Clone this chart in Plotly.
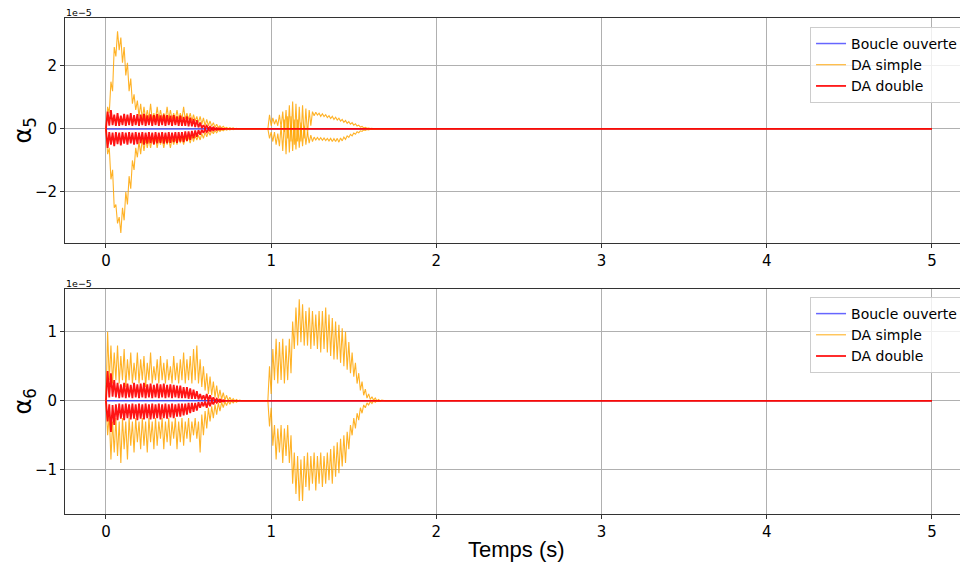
import numpy as np
import plotly.graph_objects as go
from plotly.subplots import make_subplots

# ---------------- data (units of 1e-5) ----------------
x_ticks = [0, 1, 2, 3, 4, 5]
y5_ticks = [-2, 0, 2]
y6_ticks = [-1, 0, 1]
t_end = 5.0
dt = 0.01

# Boucle ouverte (flat)
bo_t = [0.0, 5.0]
bo_v = [0.0, 0.0]

# ---- alpha5, DA simple ----
s5_A_start = 0.0
s5_A_up = [0.0, 0.7, 0.5, 1.5, 1.2, 2.6, 2.3, 3.1, 2.5, 2.9, 2.1, 2.6, 1.7, 2.1, 1.2, 1.6, 0.8, 1.1, 0.6, 0.9,
           0.4, 0.8, 0.3, 0.7, 0.3, 0.6, 0.3, 0.8, 0.3, 0.5, 0.3, 0.7, 0.3, 0.6, 0.3, 0.5, 0.3, 0.7, 0.3, 0.6,
           0.3, 0.5, 0.3, 0.6, 0.3, 0.5, 0.3, 0.7, 0.3, 0.5, 0.3, 0.5, 0.25, 0.45, 0.25, 0.4, 0.2, 0.4, 0.15, 0.35,
           0.1, 0.3, 0.1, 0.25, 0.08, 0.2, 0.05, 0.15, 0.04, 0.1, 0.03, 0.08, 0.02, 0.05, 0.01, 0.04, 0.01, 0.03, 0.0, 0.02,
           0.0, 0.01, 0.0, 0.0, 0.0]
s5_A_lo = [0.0, -0.8, -0.6, -1.6, -1.3, -2.5, -2.4, -3.0, -2.8, -3.3, -2.5, -2.9, -2.0, -2.4, -1.5, -1.9, -1.0, -1.3, -0.6, -0.9,
           -0.4, -0.8, -0.3, -0.7, -0.3, -0.6, -0.3, -0.6, -0.3, -0.5, -0.3, -0.6, -0.3, -0.5, -0.3, -0.6, -0.3, -0.5, -0.3, -0.6,
           -0.3, -0.5, -0.3, -0.5, -0.25, -0.45, -0.25, -0.5, -0.25, -0.4, -0.25, -0.45, -0.2, -0.4, -0.2, -0.35, -0.2, -0.35, -0.15, -0.3,
           -0.1, -0.25, -0.08, -0.2, -0.06, -0.15, -0.05, -0.12, -0.03, -0.08, -0.02, -0.06, -0.01, -0.04, -0.01, -0.03, 0.0, -0.02, 0.0, -0.01,
           0.0, 0.0, 0.0, 0.0, 0.0]
s5_B_start = 0.98
s5_B_up = [0.0, 0.45, 0.1, 0.35, 0.15, 0.3, 0.1, 0.45, 0.05, 0.55, -0.1, 0.6, -0.3, 0.75, -0.4, 0.87, -0.5, 0.8, -0.4, 0.7,
           -0.4, 0.75, -0.3, 0.65, -0.2, 0.6, 0.1, 0.55, 0.42, 0.53, 0.44, 0.5, 0.4, 0.48, 0.39, 0.45, 0.36, 0.42, 0.33, 0.4,
           0.3, 0.37, 0.28, 0.34, 0.25, 0.3, 0.21, 0.27, 0.18, 0.23, 0.15, 0.2, 0.12, 0.16, 0.09, 0.12, 0.06, 0.08, 0.03, 0.05,
           0.02, 0.03, 0.01, 0.02, 0.0, 0.01, 0.0, 0.0, 0.0, 0.0, 0.0, 0.0, 0.0, 0.0, 0.0, 0.0, 0.0]
s5_B_lo = [0.0, -0.3, -0.1, -0.4, -0.1, -0.5, -0.15, -0.55, 0.1, -0.7, 0.3, -0.8, 0.4, -0.75, 0.4, -0.7, 0.3, -0.65, 0.3, -0.6,
           0.2, -0.55, 0.1, -0.5, -0.1, -0.45, -0.2, -0.4, -0.26, -0.35, -0.27, -0.35, -0.28, -0.36, -0.29, -0.37, -0.3, -0.38, -0.3, -0.4,
           -0.31, -0.4, -0.3, -0.42, -0.29, -0.38, -0.26, -0.33, -0.22, -0.27, -0.17, -0.22, -0.13, -0.17, -0.09, -0.12, -0.06, -0.08, -0.03, -0.05,
           -0.02, -0.03, -0.01, -0.02, 0.0, -0.01, 0.0, 0.0, 0.0, 0.0, 0.0, 0.0, 0.0, 0.0, 0.0, 0.0, 0.0]

# ---- alpha5, DA double ----
d5_start = 0.0
d5_up = [0.0, 0.55, 0.1, 0.6, 0.12, 0.45, 0.1, 0.5, 0.1, 0.42, 0.12, 0.48, 0.1, 0.45, 0.12, 0.5, 0.1, 0.44, 0.12, 0.47,
         0.1, 0.45, 0.12, 0.48, 0.1, 0.43, 0.12, 0.46, 0.1, 0.44, 0.12, 0.47, 0.1, 0.43, 0.12, 0.45, 0.1, 0.44, 0.12, 0.42,
         0.1, 0.44, 0.12, 0.4, 0.1, 0.42, 0.1, 0.38, 0.1, 0.4, 0.08, 0.36, 0.08, 0.32, 0.06, 0.28, 0.05, 0.2, 0.03, 0.12,
         0.02, 0.1, 0.01, 0.07, 0.0, 0.05, 0.0, 0.03, 0.0, 0.02, 0.0, 0.01, 0.0]
d5_lo = [0.0, -0.6, -0.1, -0.5, -0.12, -0.55, -0.1, -0.48, -0.12, -0.52, -0.1, -0.47, -0.12, -0.5, -0.1, -0.46, -0.12, -0.5, -0.1, -0.48,
         -0.12, -0.45, -0.1, -0.5, -0.12, -0.47, -0.1, -0.45, -0.12, -0.49, -0.1, -0.46, -0.12, -0.44, -0.1, -0.47, -0.12, -0.45, -0.1, -0.44,
         -0.12, -0.42, -0.1, -0.44, -0.1, -0.4, -0.1, -0.42, -0.08, -0.38, -0.08, -0.35, -0.06, -0.3, -0.05, -0.25, -0.04, -0.18, -0.03, -0.12,
         -0.02, -0.1, -0.01, -0.07, 0.0, -0.05, 0.0, -0.03, 0.0, -0.02, 0.0, -0.01, 0.0]

# ---- alpha6, DA simple ----
s6_A_start = 0.0
s6_A_up = [0.0, 1.0, 0.3, 0.8, 0.25, 0.7, 0.3, 0.8, 0.25, 0.65, 0.3, 0.75, 0.2, 0.6, 0.3, 0.7, 0.25, 0.55, 0.3, 0.7,
           0.25, 0.6, 0.3, 0.65, 0.2, 0.55, 0.3, 0.7, 0.25, 0.5, 0.3, 0.6, 0.25, 0.65, 0.3, 0.55, 0.25, 0.6, 0.3, 0.5,
           0.25, 0.65, 0.3, 0.55, 0.25, 0.6, 0.3, 0.7, 0.25, 0.6, 0.3, 0.65, 0.25, 0.75, 0.3, 0.8, 0.25, 0.6, 0.2, 0.5,
           0.15, 0.4, 0.1, 0.35, 0.08, 0.28, 0.05, 0.22, 0.03, 0.16, 0.02, 0.12, 0.01, 0.08, 0.0, 0.05, 0.0, 0.03, 0.0, 0.02,
           0.0, 0.01, 0.0, 0.0, 0.0]
s6_A_lo = [0.0, -0.5, -0.2, -0.85, -0.3, -0.75, -0.25, -0.8, -0.3, -0.9, -0.25, -0.7, -0.3, -0.85, -0.25, -0.65, -0.3, -0.75, -0.25, -0.6,
           -0.3, -0.7, -0.25, -0.65, -0.3, -0.75, -0.25, -0.6, -0.3, -0.7, -0.25, -0.65, -0.3, -0.55, -0.25, -0.7, -0.3, -0.6, -0.25, -0.65,
           -0.3, -0.55, -0.25, -0.7, -0.3, -0.6, -0.25, -0.65, -0.3, -0.55, -0.25, -0.6, -0.3, -0.5, -0.25, -0.55, -0.3, -0.75, -0.2, -0.5,
           -0.15, -0.4, -0.1, -0.3, -0.08, -0.25, -0.05, -0.2, -0.03, -0.15, -0.02, -0.1, -0.01, -0.07, 0.0, -0.05, 0.0, -0.03, 0.0, -0.02,
           0.0, 0.0, 0.0, 0.0, 0.0]
s6_B_start = 0.98
s6_B_up = [0.0, 0.5, 0.1, 0.75, 0.3, 0.9, 0.25, 0.85, 0.3, 0.9, 0.25, 0.8, 0.3, 0.9, 0.4, 1.15, 0.75, 1.35, 0.8, 1.47,
           0.85, 1.4, 0.8, 1.3, 0.8, 1.35, 0.75, 1.3, 0.8, 1.25, 0.75, 1.3, 0.7, 1.3, 0.75, 1.35, 0.7, 1.25, 0.65, 1.2,
           0.6, 1.15, 0.6, 1.1, 0.55, 1.05, 0.5, 1.0, 0.45, 0.85, 0.4, 0.7, 0.35, 0.55, 0.25, 0.4, 0.15, 0.28, 0.08, 0.17,
           0.04, 0.1, 0.02, 0.06, 0.01, 0.04, 0.0, 0.02, 0.0, 0.01, 0.0, 0.0, 0.0, 0.0, 0.0, 0.0, 0.0, 0.0, 0.0, 0.0, 0.0]
s6_B_lo = [0.0, -0.37, -0.1, -0.65, -0.35, -0.85, -0.4, -0.75, -0.35, -0.9, -0.4, -0.8, -0.35, -0.9, -0.5, -1.2, -0.75, -1.35, -0.8, -1.45,
           -0.85, -1.45, -0.8, -1.25, -0.75, -1.3, -0.8, -1.2, -0.75, -1.3, -0.8, -1.2, -0.75, -1.25, -0.8, -1.2, -0.75, -1.15, -0.7, -1.2,
           -0.65, -1.1, -0.6, -1.05, -0.55, -0.95, -0.5, -0.9, -0.45, -0.7, -0.35, -0.5, -0.25, -0.4, -0.18, -0.28, -0.1, -0.18, -0.06, -0.1,
           -0.03, -0.06, -0.01, -0.04, 0.0, -0.02, 0.0, -0.01, 0.0, 0.0, 0.0, 0.0, 0.0, 0.0, 0.0, 0.0, 0.0, 0.0, 0.0, 0.0, 0.0]

# ---- alpha6, DA double ----
d6_start = 0.0
d6_up = [0.0, 0.43, 0.05, 0.4, 0.06, 0.3, 0.05, 0.26, 0.04, 0.24, 0.05, 0.26, 0.04, 0.25, 0.05, 0.23, 0.04, 0.26, 0.05, 0.24,
         0.04, 0.25, 0.05, 0.26, 0.04, 0.24, 0.05, 0.25, 0.04, 0.23, 0.05, 0.25, 0.04, 0.24, 0.05, 0.25, 0.04, 0.23, 0.05, 0.24,
         0.04, 0.23, 0.05, 0.22, 0.04, 0.22, 0.04, 0.2, 0.04, 0.2, 0.03, 0.18, 0.03, 0.16, 0.03, 0.14, 0.02, 0.1, 0.02, 0.08,
         0.01, 0.1, 0.0, 0.08, 0.0, 0.05, 0.0, 0.03, 0.0, 0.02, 0.0, 0.01, 0.0]
d6_lo = [0.0, -0.3, -0.05, -0.45, -0.06, -0.35, -0.05, -0.28, -0.04, -0.26, -0.05, -0.28, -0.04, -0.25, -0.05, -0.27, -0.04, -0.26, -0.05, -0.28,
         -0.04, -0.26, -0.05, -0.27, -0.04, -0.25, -0.05, -0.27, -0.04, -0.26, -0.05, -0.25, -0.04, -0.27, -0.05, -0.25, -0.04, -0.26, -0.05, -0.24,
         -0.04, -0.25, -0.05, -0.23, -0.04, -0.23, -0.04, -0.21, -0.04, -0.2, -0.03, -0.18, -0.03, -0.16, -0.03, -0.14, -0.02, -0.1, -0.02, -0.08,
         -0.01, -0.1, 0.0, -0.08, 0.0, -0.05, 0.0, -0.03, 0.0, -0.02, 0.0, -0.01, 0.0]


def times(start, vals):
    return list(np.round(start + dt * np.arange(len(vals)), 4))


def build_simple(a_start, a_up, a_lo, b_start, b_up, b_lo):
    xs = times(a_start, a_up) + times(b_start, b_up) + [t_end] + [None] + times(a_start, a_lo) + times(b_start, b_lo)
    ys = a_up + b_up + [0.0] + [None] + a_lo + b_lo
    return xs, ys


def build_double(start, up, lo):
    xs = times(start, up) + [t_end] + [None] + times(start, lo)
    ys = up + [0.0] + [None] + lo
    return xs, ys


BLUE = "rgba(0,0,255,0.6)"
ORANGE = "rgba(255,165,0,0.85)"
RED = "rgba(255,0,0,0.92)"

fig = make_subplots(rows=2, cols=1, vertical_spacing=0.0)

panels = [
    (1, "legend", (s5_A_start, s5_A_up, s5_A_lo, s5_B_start, s5_B_up, s5_B_lo), (d5_start, d5_up, d5_lo)),
    (2, "legend2", (s6_A_start, s6_A_up, s6_A_lo, s6_B_start, s6_B_up, s6_B_lo), (d6_start, d6_up, d6_lo)),
]
for row, leg, sargs, dargs in panels:
    fig.add_trace(go.Scatter(x=bo_t, y=bo_v, mode="lines", name="Boucle ouverte",
                             line=dict(color=BLUE, width=1.5), legend=leg), row=row, col=1)
    sx, sy = build_simple(*sargs)
    fig.add_trace(go.Scatter(x=sx, y=sy, mode="lines", name="DA simple",
                             line=dict(color=ORANGE, width=1.1), legend=leg), row=row, col=1)
    dx, dy = build_double(*dargs)
    fig.add_trace(go.Scatter(x=dx, y=dy, mode="lines", name="DA double",
                             line=dict(color=RED, width=1.8), legend=leg), row=row, col=1)

# The page places the figure 8px from the top-left corner of the window
W, H = 960, 560
ml, mr, mt, mb = 57, 0, 10, 54
ph = H - mt - mb
top_dom = [(506 - 235) / ph, 1.0]
bot_dom = [0.0, (506 - 281) / ph]

axis_common = dict(showgrid=True, gridcolor="#b0b0b0", gridwidth=1, zeroline=False,
                   showline=True, linecolor="#333333", linewidth=1,
                   ticks="outside", ticklen=4, tickcolor="#333333", automargin=False,
                   tickfont=dict(family="DejaVu Sans", size=15, color="black"))

xrange = [-0.248, 5.218]
fig.update_xaxes(**axis_common, range=xrange, tickvals=x_ticks, mirror=True)
fig.update_yaxes(**axis_common, mirror=False)

fig.update_layout(
    xaxis=dict(domain=[0, 1], anchor="y"),
    xaxis2=dict(domain=[0, 1], anchor="y2"),
    yaxis=dict(domain=top_dom, range=[-3.62, 3.52], tickvals=y5_ticks),
    yaxis2=dict(domain=bot_dom, range=[-1.64, 1.62], tickvals=y6_ticks),
    width=W, height=H,
    margin=dict(l=ml, r=mr, t=mt, b=mb),
    paper_bgcolor="white", plot_bgcolor="white",
    legend=dict(x=0.9945, y=0.982, xanchor="right", yanchor="top", xref="paper", yref="paper",
                bgcolor="rgba(255,255,255,0.8)", bordercolor="#cccccc", borderwidth=1,
                font=dict(family="DejaVu Sans", size=14, color="black"), tracegroupgap=0, itemwidth=30),
    legend2=dict(x=0.9945, y=0.4375, xanchor="right", yanchor="top", xref="paper", yref="paper",
                 bgcolor="rgba(255,255,255,0.8)", bordercolor="#cccccc", borderwidth=1,
                 font=dict(family="DejaVu Sans", size=14, color="black"), tracegroupgap=0, itemwidth=30),
    showlegend=True,
)

for dom in (top_dom, bot_dom):
    fig.add_annotation(text="1e−5", xref="paper", yref="paper", x=0, y=dom[1], xanchor="left", yanchor="middle",
                       showarrow=False, borderpad=0, font=dict(family="DejaVu Sans", size=9.5, color="black"), yshift=6)

# axis titles
for dom, lab in ((top_dom, "α<sub>5</sub>"), (bot_dom, "α<sub>6</sub>")):
    fig.add_annotation(text=lab, xref="paper", yref="paper", x=0, y=(dom[0] + dom[1]) / 2,
                       xanchor="center", yanchor="middle", xshift=-41, textangle=-90, showarrow=False,
                       borderpad=0, font=dict(family="DejaVu Sans", size=24, color="black"))
fig.add_annotation(text="Temps (s)", xref="paper", yref="paper", x=0.5, y=0, xanchor="center", yanchor="top",
                   yshift=-21, showarrow=False, font=dict(family="Liberation Sans", size=22, color="black"))

fig.write_html("out.html")
